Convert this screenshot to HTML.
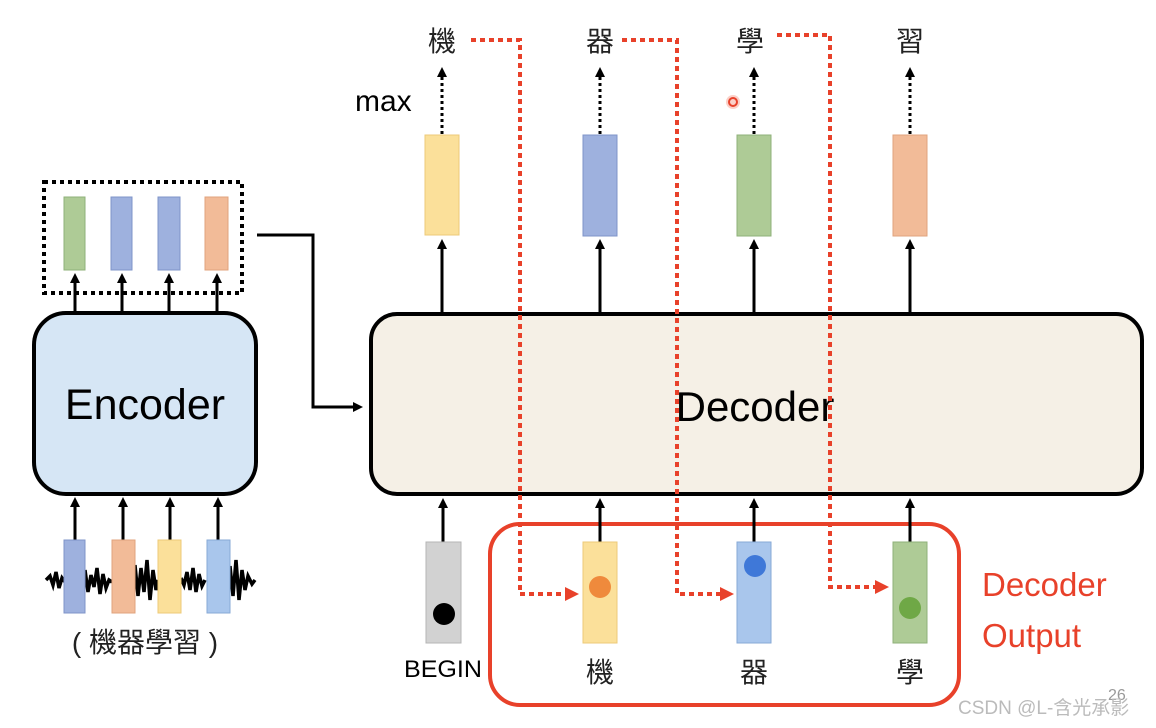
<!DOCTYPE html>
<html><head><meta charset="utf-8"><style>
html,body{margin:0;padding:0;background:#fff;}
svg{display:block;}
text{font-family:"Liberation Sans","Noto Sans CJK TC",sans-serif;}
</style></head><body>
<svg width="1156" height="728" viewBox="0 0 1156 728" xmlns="http://www.w3.org/2000/svg">
<defs>
<marker id="ab" markerWidth="10" markerHeight="10" refX="5" refY="5" orient="auto" markerUnits="userSpaceOnUse">
<path d="M0,0 L10,5 L0,10 z" fill="#000"/></marker>
<marker id="ar" markerWidth="14" markerHeight="14" refX="7" refY="7" orient="auto" markerUnits="userSpaceOnUse">
<path d="M0,0 L14,7 L0,14 z" fill="#e8412a"/></marker>
</defs>

<rect x="44" y="182" width="198" height="111" fill="none" stroke="#000" stroke-width="4" stroke-dasharray="4,4"/>
<rect x="64" y="197" width="21" height="73" fill="#aecb96" stroke="#8fb07a"/>
<rect x="111" y="197" width="21" height="73" fill="#9eb1de" stroke="#7f94c8"/>
<rect x="158" y="197" width="22" height="73" fill="#9eb1de" stroke="#7f94c8"/>
<rect x="205" y="197" width="23" height="73" fill="#f2bb98" stroke="#e0a37e"/>
<g stroke="#000" stroke-width="3">
<line x1="75" y1="312" x2="75" y2="278" marker-end="url(#ab)"/>
<line x1="122" y1="312" x2="122" y2="278" marker-end="url(#ab)"/>
<line x1="169" y1="312" x2="169" y2="278" marker-end="url(#ab)"/>
<line x1="217" y1="312" x2="217" y2="278" marker-end="url(#ab)"/>
</g>
<rect x="34" y="313" width="222" height="181" rx="32" fill="#d6e6f5" stroke="#000" stroke-width="4"/>
<text x="145" y="419" font-size="43" text-anchor="middle">Encoder</text>

<g stroke="#000" stroke-width="3">
<line x1="75" y1="540" x2="75" y2="502" marker-end="url(#ab)"/>
<line x1="123" y1="540" x2="123" y2="502" marker-end="url(#ab)"/>
<line x1="170" y1="540" x2="170" y2="502" marker-end="url(#ab)"/>
<line x1="218" y1="540" x2="218" y2="502" marker-end="url(#ab)"/>
</g>
<path d="M46,580 L50,576 L53,585 L56,572 L59,588 L62,578 L65,582 M85,570 L88,592 L91,575 L94,587 L97,568 L100,594 L103,574 L106,588 L109,580 L112,582 M135,565 L138,596 L141,568 L144,592 L147,560 L150,600 L153,570 L156,590 L158,580 M181,578 L184,585 L187,572 L190,590 L193,568 L196,592 L199,574 L202,586 L205,580 M230,566 L233,596 L236,560 L239,600 L242,570 L245,590 L248,576 L252,584 L255,580" fill="none" stroke="#000" stroke-width="3.5"/>
<rect x="64" y="540" width="21" height="73" fill="#9eb1de" stroke="#7f94c8"/>
<rect x="112" y="540" width="23" height="73" fill="#f2bb98" stroke="#e0a37e"/>
<rect x="158" y="540" width="23" height="73" fill="#fbe09a" stroke="#ecca78"/>
<rect x="207" y="540" width="23" height="73" fill="#a9c6ec" stroke="#87a9d6"/>
<text x="145" y="652" font-size="28" text-anchor="middle" fill="#222">( 機器學習 )</text>

<polyline points="257,235 313,235 313,407 358,407" fill="none" stroke="#000" stroke-width="3" marker-end="url(#ab)"/>

<rect x="371" y="314" width="771" height="180" rx="26" fill="#f5f0e6" stroke="#000" stroke-width="4"/>
<text x="755" y="421" font-size="42" text-anchor="middle">Decoder</text>

<rect x="425" y="135" width="34" height="100" fill="#fbe09a" stroke="#ecca78"/>
<rect x="583" y="135" width="34" height="101" fill="#9eb1de" stroke="#7f94c8"/>
<rect x="737" y="135" width="34" height="101" fill="#aecb96" stroke="#8fb07a"/>
<rect x="893" y="135" width="34" height="101" fill="#f2bb98" stroke="#e0a37e"/>
<g stroke="#000" stroke-width="3">
<line x1="442" y1="313" x2="442" y2="244" marker-end="url(#ab)"/>
<line x1="600" y1="313" x2="600" y2="244" marker-end="url(#ab)"/>
<line x1="754" y1="313" x2="754" y2="244" marker-end="url(#ab)"/>
<line x1="910" y1="313" x2="910" y2="244" marker-end="url(#ab)"/>
</g>
<g stroke="#000" stroke-width="3" stroke-dasharray="3,3">
<line x1="442" y1="134" x2="442" y2="72" marker-end="url(#ab)"/>
<line x1="600" y1="134" x2="600" y2="72" marker-end="url(#ab)"/>
<line x1="754" y1="134" x2="754" y2="72" marker-end="url(#ab)"/>
<line x1="910" y1="134" x2="910" y2="72" marker-end="url(#ab)"/>
</g>
<g font-size="28" text-anchor="middle" fill="#222">
<text x="442" y="51">機</text>
<text x="600" y="51">器</text>
<text x="750" y="51">學</text>
<text x="910" y="51">習</text>
</g>
<text x="355" y="111" font-size="30">max</text>
<circle cx="733" cy="102" r="7" fill="#fbd0c8"/>
<circle cx="733" cy="102" r="4" fill="none" stroke="#e8412a" stroke-width="2"/>

<rect x="490" y="524" width="469" height="181" rx="30" fill="none" stroke="#e8412a" stroke-width="4"/>
<text x="982" y="596" font-size="33" fill="#e8412a">Decoder</text>
<text x="982" y="647" font-size="33" fill="#e8412a">Output</text>

<g stroke="#000" stroke-width="3">
<line x1="443" y1="542" x2="443" y2="503" marker-end="url(#ab)"/>
<line x1="600" y1="542" x2="600" y2="503" marker-end="url(#ab)"/>
<line x1="754" y1="542" x2="754" y2="503" marker-end="url(#ab)"/>
<line x1="910" y1="542" x2="910" y2="503" marker-end="url(#ab)"/>
</g>
<rect x="426" y="542" width="35" height="101" fill="#d2d2d2" stroke="#b5b5b5"/>
<circle cx="444" cy="614" r="11" fill="#000"/>
<rect x="583" y="542" width="34" height="101" fill="#fbe09a" stroke="#ecca78"/>
<circle cx="600" cy="587" r="11" fill="#ef8a3c"/>
<rect x="737" y="542" width="34" height="101" fill="#a9c6ec" stroke="#87a9d6"/>
<circle cx="755" cy="566" r="11" fill="#3f78d8"/>
<rect x="893" y="542" width="34" height="101" fill="#aecb96" stroke="#8fb07a"/>
<circle cx="910" cy="608" r="11" fill="#6fa846"/>
<text x="443" y="677" font-size="24" text-anchor="middle" textLength="78" lengthAdjust="spacingAndGlyphs">BEGIN</text>
<g font-size="28" text-anchor="middle" fill="#222">
<text x="600" y="682">機</text>
<text x="754" y="682">器</text>
<text x="910" y="682">學</text>
</g>

<g fill="none" stroke="#e8412a" stroke-width="4" stroke-dasharray="5,4">
<polyline points="471,40 520,40 520,594 572,594" marker-end="url(#ar)"/>
<polyline points="622,40 677,40 677,594 727,594" marker-end="url(#ar)"/>
<polyline points="777,35 830,35 830,587 882,587" marker-end="url(#ar)"/>
</g>

<text x="1108" y="700" font-size="16" fill="#999">26</text>
<text x="958" y="714" font-size="19" fill="#bbb">CSDN @L-含光承影</text>
</svg>
</body></html>
